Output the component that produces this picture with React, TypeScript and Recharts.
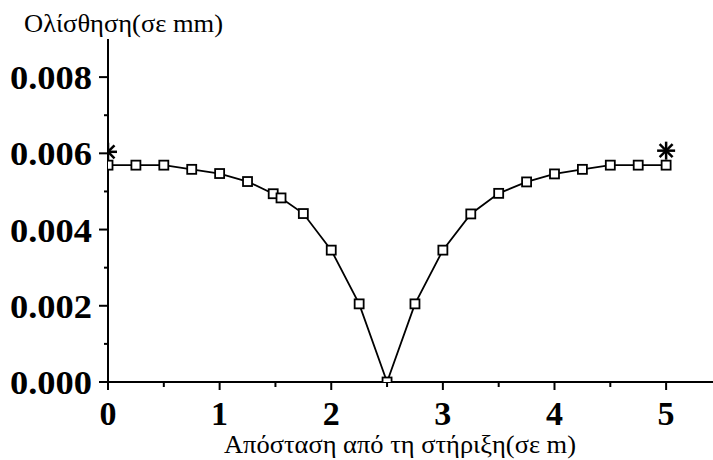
import React from "react";
import {
    ComposedChart,
    Line,
    Scatter,
    XAxis,
    YAxis,
} from "recharts";

// distance from support (m) and slip (mm)
const xs = [0, 0.25, 0.5, 0.75, 1.0, 1.25, 1.48, 1.55, 1.75, 2.0, 2.25, 2.5, 2.75, 3.0, 3.25, 3.5, 3.75, 4.0, 4.25, 4.5, 4.75, 5.0];
const slip = [0.00569, 0.00569, 0.00569, 0.00558, 0.00547, 0.00526, 0.00494, 0.00483, 0.00442, 0.00346, 0.00205, 0.0, 0.00205, 0.00346, 0.00441, 0.00495, 0.00525, 0.00546, 0.00558, 0.00569, 0.00569, 0.00569];

const starX = [0, 5];
const starY = [0.00604, 0.00607];

const xTicks = [0, 0.5, 1, 1.5, 2, 2.5, 3, 3.5, 4, 4.5, 5];
const yTicks = [0, 0.001, 0.002, 0.003, 0.004, 0.005, 0.006, 0.007, 0.008];

const curve = xs.map((x, i) => ({ x, y: slip[i] }));
const stars = starX.map((x, i) => ({ x, y: starY[i] }));

const FONT = '"Liberation Serif", "Times New Roman", serif';

const XTick = (props: any) => {
    const { x, y, payload } = props;
    const major = Number.isInteger(payload.value);
    return (
        <g>
            <line x1={x} y1={y} x2={x} y2={y + (major ? 8 : 5)} stroke="#000" strokeWidth={2} />
            {major && (
                <text x={x} y={y + 43} textAnchor="middle" fontFamily={FONT} fontWeight="bold" fontSize={34} fill="#000">
                    {payload.value}
                </text>
            )}
        </g>
    );
};

const YTick = (props: any) => {
    const { x, y, payload } = props;
    const major = Math.round(payload.value * 1000) % 2 === 0;
    return (
        <g>
            <line x1={x} y1={y} x2={x - (major ? 9 : 4)} y2={y} stroke="#000" strokeWidth={2} />
            {major && (
                <text
                    x={x - 98}
                    y={y + 12}
                    textLength={82}
                    lengthAdjust="spacingAndGlyphs"
                    fontFamily={FONT}
                    fontWeight="bold"
                    fontSize={34}
                    fill="#000"
                >
                    {payload.value.toFixed(3)}
                </text>
            )}
        </g>
    );
};

const Square = (props: any) => {
    const { cx, cy } = props;
    return <rect x={cx - 4.5} y={cy - 4.5} width={9} height={9} fill="#fff" stroke="#000" strokeWidth={1.8} />;
};

const Star = (props: any) => {
    const { cx, cy } = props;
    const r = 9;
    const d = r * 0.72;
    return (
        <g stroke="#000" strokeWidth={2.5}>
            <line x1={cx - r} y1={cy} x2={cx + r} y2={cy} />
            <line x1={cx} y1={cy - r} x2={cx} y2={cy + r} />
            <line x1={cx - d} y1={cy - d} x2={cx + d} y2={cy + d} />
            <line x1={cx - d} y1={cy + d} x2={cx + d} y2={cy - d} />
        </g>
    );
};

export default function App() {
    return (
        <div style={{ position: "absolute", left: 0, top: 0, width: 713, height: 460, background: "#fff" }}>
            <ComposedChart width={713} height={460} margin={{ top: 39, right: 0, left: 0, bottom: 0 }}>
                <XAxis
                    type="number"
                    dataKey="x"
                    domain={[0, 5.42]}
                    ticks={xTicks}
                    allowDataOverflow
                    height={78}
                    tickSize={0}
                    tickMargin={0}
                    tickLine={false}
                    tick={<XTick />}
                    axisLine={{ stroke: "#000", strokeWidth: 2 }}
                />
                <YAxis
                    type="number"
                    dataKey="y"
                    domain={[0, 0.009]}
                    ticks={yTicks}
                    allowDataOverflow
                    width={108}
                    tickSize={0}
                    tickMargin={0}
                    tickLine={false}
                    tick={<YTick />}
                    axisLine={{ stroke: "#000", strokeWidth: 2 }}
                />
                <Line
                    data={curve}
                    dataKey="y"
                    type="linear"
                    stroke="#000"
                    strokeWidth={1.8}
                    dot={false}
                    activeDot={false}
                    isAnimationActive={false}
                />
                <Scatter data={curve} dataKey="y" shape={<Square />} isAnimationActive={false} />
                <Scatter data={stars} dataKey="y" shape={<Star />} isAnimationActive={false} />
            </ComposedChart>
            <svg width={713} height={460} style={{ position: "absolute", left: 0, top: 0, pointerEvents: "none" }}>
                <text x={24} y={32} textLength={199} lengthAdjust="spacingAndGlyphs" fontFamily={FONT} fontSize={26} fill="#000">
                    Ολίσθηση(σε mm)
                </text>
                <text x={224} y={453} textLength={352} lengthAdjust="spacingAndGlyphs" fontFamily={FONT} fontSize={26} fill="#000">
                    Απόσταση από τη στήριξη(σε m)
                </text>
            </svg>
        </div>
    );
}
